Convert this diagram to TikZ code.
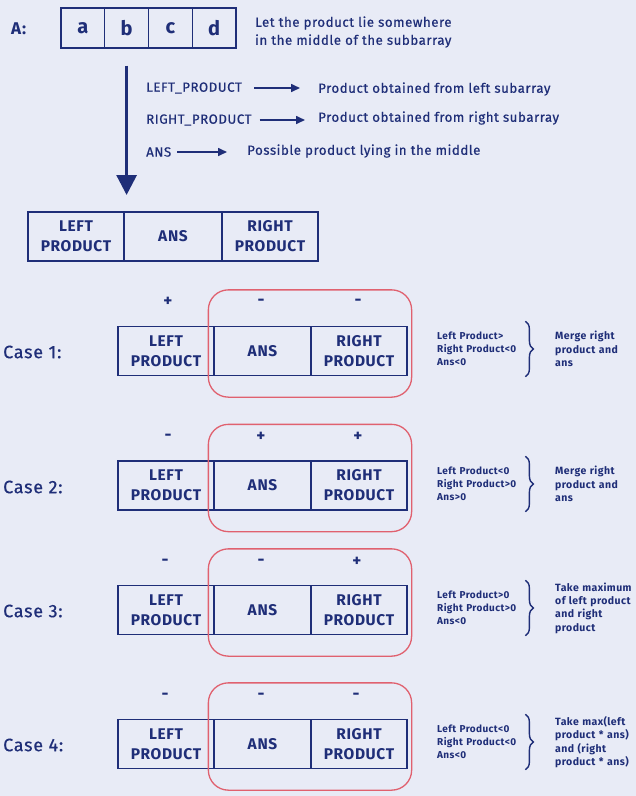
\documentclass[tikz,border=0pt]{standalone}
\usepackage{fontspec}
\setmainfont{Fira Sans}[LetterSpace=4, UprightFeatures={FakeBold=0.6}]
\usepackage{tikz}
\usetikzlibrary{arrows.meta,calc,decorations.pathreplacing}
\definecolor{navy}{HTML}{1F2E78}
\definecolor{bgc}{HTML}{E8EBF6}
\definecolor{redline}{HTML}{E0616F}
\tikzstyle{cell}=[draw=navy, line width=1.3pt, inner sep=0pt, minimum height=49pt, align=center, text=navy, font=\fontsize{15.5}{20}\selectfont\bfseries]
\tikzstyle{letter}=[cell, minimum width=43.75pt, minimum height=40pt, font=\fontsize{20}{22}\selectfont\bfseries]
\tikzstyle{txt}=[text=navy, inner sep=0pt, anchor=west, font=\fontsize{13.3}{18}\selectfont]
\tikzstyle{sign}=[text=navy, inner sep=0pt, font=\fontsize{17}{17}\selectfont\bfseries]
\tikzstyle{casetxt}=[txt, font=\fontsize{18}{20}\selectfont]
\tikzstyle{cond}=[txt, text width=86pt, minimum height=55pt, align=left, font=\fontsize{10}{13}\selectfont\bfseries]
\tikzstyle{result}=[txt, text width=82pt, align=left, font=\fontsize{10.5}{13.3}\selectfont\bfseries]
\tikzstyle{merge}=[draw=redline, line width=1.3pt, rounded corners=20pt]
\tikzstyle{smallarrow}=[draw=navy, line width=1.6pt, -{Triangle[length=9pt,width=8pt]}]
\tikzstyle{bigarrow}=[draw=navy, line width=3pt, -{Triangle[length=20pt,width=20pt]}]
\tikzstyle{curly}=[draw=navy, line width=1.4pt, decorate, decoration={brace, amplitude=8pt}]
\newcommand{\cell}{\node[cell]}

\begin{document}
\begin{tikzpicture}[x=1pt,y=-1pt]
	\fill[bgc] (0,0) rectangle (636,796);
	\useasboundingbox (0,0) rectangle (636,796);
	% the array
	\node[txt, font=\fontsize{17}{17}\selectfont\bfseries](A) at (11,29) {A:};
	\node[letter](a) at (82.9,28) {a};
	\node[letter](b) at (126.6,28) {b};
	\node[letter](c) at (170.4,28) {c};
	\node[letter](d) at (214.1,28) {d};
	\node[txt, align=left](note) at (255,32) {Let the product lie somewhere\\in the middle of the subbarray};
	\coordinate (tip) at (126.6,195);
	\draw[bigarrow, shorten <=17pt] (b.south) -- (tip);
	% meanings
	\node[txt](lp) at (146,88) {LEFT\_PRODUCT};
	\node[txt](lpd) at (318,89) {Product obtained from left subarray};
	\node[txt](rp) at (146,120) {RIGHT\_PRODUCT};
	\node[txt](rpd) at (318,118) {Product obtained from right subarray};
	\node[txt](an) at (146,152) {ANS};
	\node[txt](and) at (247,151) {Possible product lying in the middle};
	\draw[smallarrow, shorten <=12pt, shorten >=18pt] (lp.east) -- (lp.east -| lpd.west);
	\draw[smallarrow, shorten <=8pt, shorten >=13pt] (rp.east) -- (rp.east -| rpd.west);
	\draw[smallarrow, shorten <=6pt, shorten >=20pt] (an.east) -- (an.east -| and.west);
	% split of the subarray
	\cell[minimum width=96pt](left0) at (76,236.5) {LEFT\\PRODUCT};
	\cell[minimum width=98pt](ans0) at (173,236.5) {ANS};
	\cell[minimum width=96pt](right0) at (270,236.5) {RIGHT\\PRODUCT};
	% case 1
	\node[casetxt](case1) at (3,352) {Case 1:};
	\cell[minimum width=96pt](left1) at (166,351) {LEFT\\PRODUCT};
	\cell[minimum width=97pt](ans1) at (262.5,351) {ANS};
	\cell[minimum width=96pt](right1) at (359,351) {RIGHT\\PRODUCT};
	\node[sign](s1l) at (168,302) {+};
	\node[sign](s1a) at (261,302) {-};
	\node[sign](s1r) at (358,302) {-};
	\draw[merge] ($(ans1.north west)+(-5,-36)$) rectangle ($(right1.south east)+(4,21)$);
	\node[cond](cond1) at (437,349) {Left Product>\\Right Product<0\\Ans<0};
	\draw[curly] ([xshift=2pt]cond1.north east) -- ([xshift=2pt]cond1.south east);
	\node[result](res1) at (555,349) {Merge right\\product and\\ans};
	% case 2
	\node[casetxt](case2) at (3,487) {Case 2:};
	\cell[minimum width=96pt](left2) at (166,485.5) {LEFT\\PRODUCT};
	\cell[minimum width=97pt](ans2) at (262.5,485.5) {ANS};
	\cell[minimum width=96pt](right2) at (359,485.5) {RIGHT\\PRODUCT};
	\node[sign](s2l) at (168,437) {-};
	\node[sign](s2a) at (261,437) {+};
	\node[sign](s2r) at (358,437) {+};
	\draw[merge] ($(ans2.north west)+(-5,-36)$) rectangle ($(right2.south east)+(4,21)$);
	\node[cond](cond2) at (437,484) {Left Product<0\\Right Product>0\\Ans>0};
	\draw[curly] ([xshift=2pt]cond2.north east) -- ([xshift=2pt]cond2.south east);
	\node[result](res2) at (555,484) {Merge right\\product and\\ans};
	% case 3
	\node[casetxt](case3) at (3,611) {Case 3:};
	\cell[minimum width=96pt](left3) at (166,610) {LEFT\\PRODUCT};
	\cell[minimum width=97pt](ans3) at (262.5,610) {ANS};
	\cell[minimum width=96pt](right3) at (359,610) {RIGHT\\PRODUCT};
	\node[sign](s3l) at (165,562) {-};
	\node[sign](s3a) at (261,562) {-};
	\node[sign](s3r) at (357,562) {+};
	\draw[merge] ($(ans3.north west)+(-5,-36)$) rectangle ($(right3.south east)+(4,21)$);
	\node[cond](cond3) at (437,608) {Left Product>0\\Right Product>0\\Ans<0};
	\draw[curly] ([xshift=2pt]cond3.north east) -- ([xshift=2pt]cond3.south east);
	\node[result](res3) at (555,608) {Take maximum\\of left product\\and right\\product};
	% case 4
	\node[casetxt](case4) at (3,745) {Case 4:};
	\cell[minimum width=96pt](left4) at (166,744) {LEFT\\PRODUCT};
	\cell[minimum width=97pt](ans4) at (262.5,744) {ANS};
	\cell[minimum width=96pt](right4) at (359,744) {RIGHT\\PRODUCT};
	\node[sign](s4l) at (165,696) {-};
	\node[sign](s4a) at (261,696) {-};
	\node[sign](s4r) at (356,696) {-};
	\draw[merge] ($(ans4.north west)+(-5,-36)$) rectangle ($(right4.south east)+(4,21)$);
	\node[cond](cond4) at (437,742) {Left Product<0\\Right Product<0\\Ans<0};
	\draw[curly] ([xshift=2pt]cond4.north east) -- ([xshift=2pt]cond4.south east);
	\node[result](res4) at (555,742) {Take max(left\\product * ans)\\and (right\\product * ans)};
\end{tikzpicture}
\end{document}
